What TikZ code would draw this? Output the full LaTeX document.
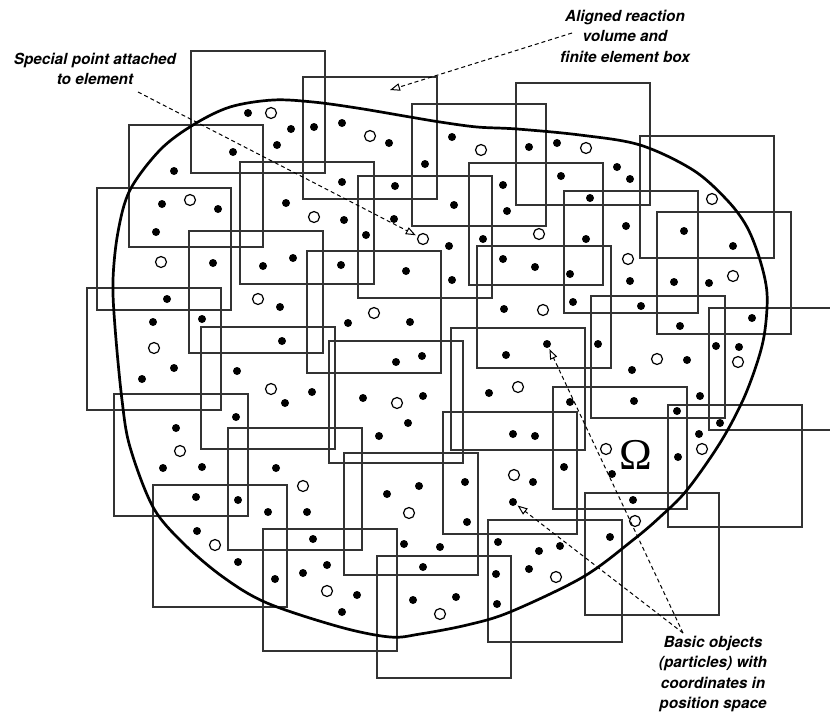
\documentclass[tikz,border=0pt]{standalone}
\usepackage{fontspec}
\newfontfamily\labelfont{TeX Gyre Heros}
\newfontfamily\omegafont{Liberation Serif}
\usetikzlibrary{arrows.meta}
\begin{document}
\begin{tikzpicture}[x=1pt,y=-1pt,
  elbox/.style={draw=black!80,line width=1.2pt},
  boundaryline/.style={draw=black,line width=2.7pt},
  fdot/.style={circle,fill=black,inner sep=0pt,minimum size=8pt},
  odot/.style={circle,draw=black,fill=white,line width=1.2pt,inner sep=0pt,minimum size=11pt},
  lbl/.style={align=center,font=\labelfont\bfseries\itshape\fontsize{15.3}{20.5}\selectfont},
  callout/.style={dashed,dash pattern=on 4pt off 3pt,line width=1pt,
    -{Triangle[open,length=10pt,width=7.5pt,line width=1pt]}}]
\useasboundingbox (0,0) rectangle (830,715);
\fill[white] (0,0) rectangle (830,715);
% finite element boxes
\foreach \x/\y in {191/51,303/77,129/125,97/188,240/162,412/104,516/83,358/176,469/163,307/251,
  477/246,189/231,640/136,564/191,657/212,591/296,451/328,553/387,668/405,443/412,585/493,488/520,
  87/288,201/327,329/341,114/394,228/428,153/485,344/453,263/529,377/556}
  \draw[elbox] (\x,\y) rectangle ++(134,122);
\draw[elbox] (830,308) -- (709,308) -- (709,430) -- (830,430);
% domain boundary
\draw[boundaryline] plot[smooth cycle,tension=0.55] coordinates {
 (113,280) (118,232) (130,190) (160,150) (193,125) (230,107) (273,100) (313,102) (357,108)
 (410,117) (440,122) (477,127) (517,129) (580,135) (640,145) (693,170) (727,200) (747,227)
 (760,260) (767,293) (765,330) (758,360) (743,400) (720,443) (687,490) (660,517) (633,540)
 (583,577) (510,612) (467,625) (420,634) (390,637) (340,627) (267,603) (223,577) (183,543)
 (153,507) (130,447) (122,400) (115,327)};
% particles
\foreach \x/\y in {248/113,291/129,314/127,342/123,277/145,233/152,174/171,342/182,162/204,218/209,
  156/232,286/203,344/220,213/263,263/266,293/258,341/265,389/143,452/137,529/147,557/143,425/164,
  395/186,503/185,561/176,454/205,507/211,394/219,366/235,449/246,483/239,503/259,535/267,570/274,
  406/271,452/280,617/167,630/179,590/198,626/226,586/239,684/231,733/246,630/281,674/282,709/283,
  573/302,641/306,752/318,680/326,167/299,280/307,153/322,202/319,348/323,282/341,174/368,142/379,
  237/371,312/392,285/403,236/417,176/428,163/468,202/467,276/468,196/497,238/500,410/322,504/309,
  598/344,396/362,422/356,506/355,363/398,423/396,408/423,379/436,489/393,570/402,513/434,
  535/436,564/467,533/482,387/494,419/486,465/482,716/346,739/347,687/360,632/370,700/396,
  634/401,677/411,720/423,699/434,678/457,612/474,633/500,610/537,268/512,307/512,197/531,313/539,
  404/544,440/547,238/562,275/579,303/573,327/565,423/567,357/595,342/612,413/600,467/522,498/542,
  560/546,539/551,529/569,496/574,456/597,497/604}
  \node[fdot] at (\x,\y) {};
\node[fdot] (d1) at (513,502) {};
\node[fdot] (d2) at (547,344) {};
\foreach \x/\y in {271/113,314/217,190/200,161/262,370/136,481/150,539/234,586/148,712/199,
  628/259,733/276,258/299,154/348,271/389,180/451,303/486,374/313,543/310,397/403,518/387,514/475,
  657/359,738/362,702/449,606/449,635/521,409/513,215/545,327/591,440/614,556/577}
  \node[odot] at (\x,\y) {};
\node[odot] (sp) at (423,239) {};
% domain label
\node[inner sep=0pt] (omega) at (636,455) {\omegafont\fontsize{44}{44}\selectfont Ω};
% labels
\node[lbl] (special) at (95,69) {Special point attached\\to element};
\node[lbl] (aligned) at (625,36) {Aligned reaction\\volume and\\finite element box};
\node[lbl] (basic) at (713,674) {Basic objects\\(particles) with\\coordinates in\\position space};
\coordinate (s1) at (138,92);
\coordinate (s2) at (572,33);
\coordinate (s3) at (683,633);
\coordinate (boxpt) at (390,90);
\draw[callout,shorten >=2pt] (s1) -- (sp);
\draw[callout] (s2) -- (boxpt);
\draw[callout,shorten >=1.5pt] (s3) -- (d1);
\draw[callout,shorten >=1.5pt] (s3) -- (d2);
\end{tikzpicture}
\end{document}
